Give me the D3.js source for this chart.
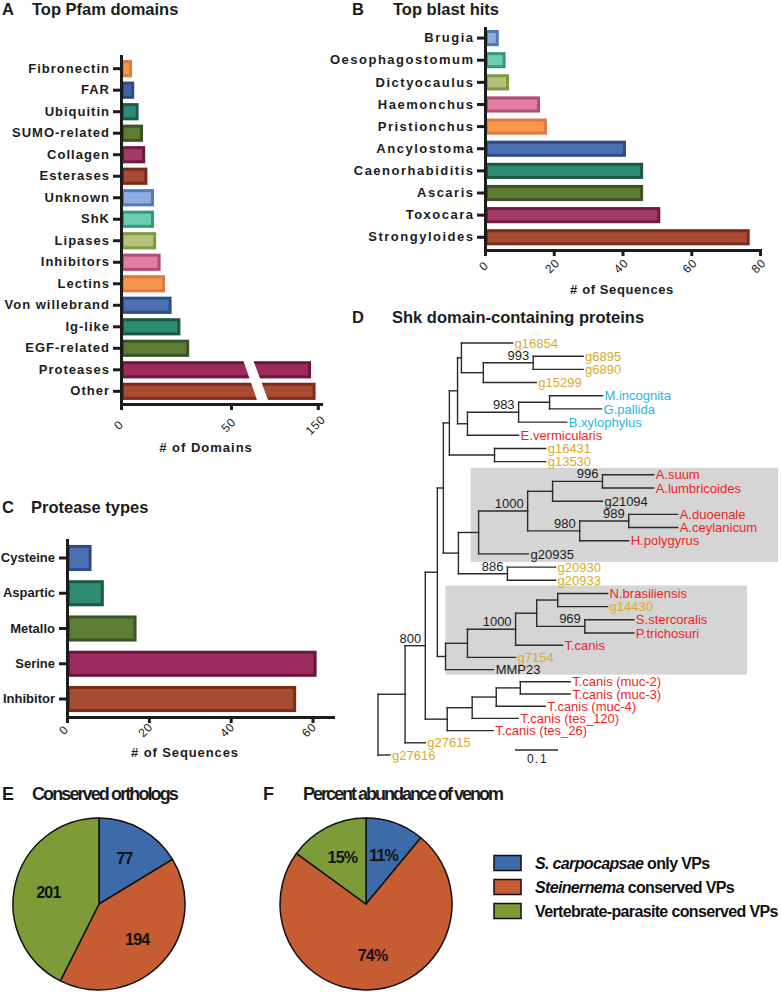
<!DOCTYPE html>
<html><head><meta charset="utf-8">
<script src="https://cdn.jsdelivr.net/npm/d3@7"></script>
<style>
body{margin:0;background:#fff;}
svg{display:block;font-family:"Liberation Sans",Arial,Helvetica,sans-serif;}
</style></head><body>
<svg id="fig" width="781" height="992"></svg>
<script>
// ---------------- DATA ----------------
const pfamCategories = ["Fibronectin","FAR","Ubiquitin","SUMO-related","Collagen","Esterases","Unknown","ShK","Lipases","Inhibitors","Lectins","Von willebrand","Ig-like","EGF-related","Proteases","Other"];
const pfamValues = [5,6,8,10,11,12,15,15,16,18,20,23,27,31,147,149];
const pfamTicks = [0,50,150];

const blastCategories = ["Brugia","Oesophagostomum","Dictyocaulus","Haemonchus","Pristionchus","Ancylostoma","Caenorhabiditis","Ascaris","Toxocara","Strongyloides"];
const blastValues = [4,6,7,16,18,41,46,46,51,77];
const blastTicks = [0,20,40,60,80];

const proteaseCategories = ["Cysteine","Aspartic","Metallo","Serine","Inhibitor"];
const proteaseValues = [6,9,17,61,56];
const proteaseTicks = [0,20,40,60];

const vpGroups = [["S. carpocapsae"," only VPs"],["Steinernema"," conserved VPs"],["","Vertebrate-parasite conserved VPs"]];
const orthologCounts = [77,194,201];
const abundancePercent = [11,74,15];

// tree: N(branch length, bootstrap, ...children), L(name, branch length, group)
function L(name, len, grp){ return {name, len, grp}; }
function N(len, boot, ...children){ return {len, boot, children}; }
const shkTree = N(0, null,
  N(0.063, null,
    N(0.047, "800",
      N(0.028, null,
        N(0.014, null,
          N(0.014, null,
            N(0.019, null,
              N(0.009, null,
                L("g16854", 0.119, "s"),
                N(0.051, null,
                  N(0.116, "993", L("g6895",0.116,"s"), L("g6890",0.116,"s")),
                  L("g15299", 0.123, "s"))),
              N(0.023, null,
                N(0.119, "983",
                  N(0.072, null, L("M.incognita",0.123,"c"), L("G.pallida",0.121,"c")),
                  L("B.xylophylus",0.112,"c")),
                L("E.vermicularis",0.119,"r"))),
            N(0.105, null, L("g16431",0.119,"s"), L("g13530",0.119,"s"))),
          N(0.035, null,
            N(0.047, null,
              N(0.114, "1000",
                N(0.058, null,
                  N(0.116, "996", L("A.suum",0.119,"r"), L("A.lumbricoides",0.119,"r")),
                  L("g21094",0.116,"k")),
                N(0.121, "980",
                  N(0.114, "989", L("A.duoenale",0.114,"r"), L("A.ceylanicum",0.114,"r")),
                  L("H.polygyrus",0.114,"r"))),
              L("g20935",0.116,"k")),
            N(0.114, "886", L("g20930",0.112,"s"), L("g20933",0.112,"s")))),
        N(0.019, null,
          N(0.051, null,
            N(0.112, "1000",
              N(0.049, null,
                N(0.049, null, L("N.brasiliensis",0.116,"r"), L("g14430",0.116,"s")),
                N(0.112, "969", L("S.stercoralis",0.114,"r"), L("P.trichosuri",0.114,"r"))),
              L("T.canis",0.109,"r")),
            L("g7154",0.112,"s")),
          L("MMP23",0.112,"k"))),
      N(0.051, null,
        N(0.058, null,
          N(0.056, null,
            N(0.056, null, L("T.canis (muc-2)",0.116,"r"), L("T.canis (muc-3)",0.116,"r")),
            L("T.canis (muc-4)",0.114,"r")),
          L("T.canis (tes_120)",0.107,"r")),
        L("T.canis (tes_26)",0.107,"r"))),
    L("g27615",0.047,"s")),
  L("g27616",0.028,"s"));
const scaleBarValue = 0.1;

// ---------------- STYLES ----------------
const pfamFill   = ["#f7954a","#3d65a9","#2d8b73","#5d7d35","#a33b66","#a64b34","#8eaedf","#6fcdb3","#b6c17b","#e27ea1","#f7954a","#4a70b2","#2d8b73","#5d7d35","#9e2b5e","#a84b33"];
const pfamStroke = ["#e2783f","#2c4a80","#1c5c4a","#3c5424","#701b42","#7a2a1c","#5279bf","#319a80","#7b9b3c","#b24b77","#da7a48","#2c4d88","#1c5846","#3c5424","#6a1740","#7e2b1a"];
const blastFill   = ["#8eaedf","#6fcdb3","#b6c17b","#e27ea1","#f7954a","#4a70b2","#2d8b73","#5d7d35","#a33b66","#a84b33"];
const blastStroke = ["#5279bf","#319a80","#7b9b3c","#b24b77","#da7a48","#2c4d88","#1c5846","#3c5424","#701b42","#7e2b1a"];
const protFill   = ["#4a70b2","#2d8b73","#5d7d35","#9e2b5e","#a84b33"];
const protStroke = ["#2c4d88","#1c5846","#3c5424","#6a1740","#7e2b1a"];
const pieColors = ["#3d6aa8","#c65c32","#7d9b37"];
const leafColor = {s:"#d9ab2c", r:"#ee1f26", c:"#2cb4e6", k:"#1a1a1a"};
const INK = "#1c1c1c";

const svg = d3.select("#fig");

function txt(x, y, s, o={}){
  const t = svg.append("text").attr("x",x).attr("y",y).text(s)
    .attr("font-size", o.size||16).attr("font-weight", o.weight||"bold")
    .attr("fill", o.fill||INK);
  if(o.ls!==undefined) t.attr("letter-spacing", o.ls);
  if(o.anchor) t.attr("text-anchor", o.anchor);
  return t;
}

// ---------------- PANEL TITLES ----------------
txt(2,15,"A",{size:16.5}); txt(32,15,"Top Pfam domains",{size:16.5});
txt(352,15,"B",{size:16.5}); txt(393,15,"Top blast hits",{size:16.5});
txt(2,513,"C",{size:16.5}); txt(31,513,"Protease types",{size:16.5});
txt(352,323,"D",{size:16.5}); txt(392,323,"Shk domain-containing proteins",{size:16.5});
txt(2,800,"E",{size:18}); txt(32,800,"Conserved orthologs",{size:18,ls:-1.9});
txt(263,800,"F",{size:18}); txt(303,800,"Percent abundance of venom",{size:18,ls:-2});

// ---------------- BAR CHARTS ----------------
function barChart(cfg){
  const {cats, vals, fills, strokes, x, y, ticks, labLS, tickOff, axTitle, axTitleX, axTitleY, axLS} = cfg;
  const g = svg.append("g");
  const x0 = x(0), axisY = y.range()[1];
  g.selectAll("rect").data(cats).join("rect")
    .attr("x", x0+1.5).attr("y", d=>y(d)+1.5)
    .attr("width", (d,i)=>Math.max(0, x(vals[i])-x0-3))
    .attr("height", y.bandwidth()-3)
    .attr("fill",(d,i)=>fills[i]).attr("stroke",(d,i)=>strokes[i]).attr("stroke-width",3);
  if(cfg.after) cfg.after(g);
  const ya = g.append("g").attr("transform",`translate(${x0},0)`)
    .call(d3.axisLeft(y).tickSize(8).tickPadding(4).tickSizeOuter(0));
  ya.selectAll("text").attr("font-size",13).attr("font-weight","bold").attr("fill",INK)
    .attr("font-family",'"Liberation Sans",Arial,sans-serif')
    .attr("letter-spacing",labLS).attr("dx", labLS? labLS : 0);
  const xa = g.append("g").attr("transform",`translate(0,${axisY})`)
    .call(d3.axisBottom(x).tickValues(ticks).tickSize(6).tickSizeOuter(0).tickFormat(d3.format("d")));
  xa.selectAll(".tick text").attr("font-size",12).attr("fill",INK)
    .attr("font-family",'"Liberation Sans",Arial,sans-serif').attr("letter-spacing",0.6)
    .attr("y",null).attr("dy","0.35em").attr("text-anchor","middle")
    .attr("transform",`translate(${tickOff[0]},${tickOff[1]}) rotate(-45)`);
  [ya,xa].forEach(a=>{
    a.select(".domain").attr("stroke",INK).attr("stroke-width",3).attr("stroke-linecap","square");
    a.selectAll(".tick line").attr("stroke",INK).attr("stroke-width",3);
  });
  g.append("text").attr("x",axTitleX).attr("y",axTitleY).attr("text-anchor","middle")
    .attr("font-size",13).attr("font-weight","bold").attr("fill",INK).attr("letter-spacing",axLS)
    .text(axTitle);
}

// A
const xA = d3.scaleLinear().domain([0,61,122.3,151.4]).range([121,255.2,255.2,321]);
const yA = d3.scaleBand().domain(pfamCategories).range([56,404]).paddingInner(0.2).paddingOuter(0.19);
barChart({cats:pfamCategories, vals:pfamValues, fills:pfamFill, strokes:pfamStroke, x:xA, y:yA,
  ticks:pfamTicks, labLS:1, tickOff:[-3,21], axTitle:"# of Domains", axTitleX:206, axTitleY:452, axLS:1,
  after: g=>{
    const bx = xA(61);
    const top = yA("Proteases")-1, bot = yA("Other")+yA.bandwidth()+0.5;
    g.append("polygon").attr("points",[[bx-12,top],[bx-2,top],[bx+13,bot],[bx+2,bot]].join(" "))
      .attr("fill","#fff");
  }});

// B
const xB = d3.scaleLinear().domain([0,80]).range([485,760]);
const yB = d3.scaleBand().domain(blastCategories).range([28,250]).paddingInner(0.27).paddingOuter(0.15).align(0.3);
barChart({cats:blastCategories, vals:blastValues, fills:blastFill, strokes:blastStroke, x:xB, y:yB,
  ticks:blastTicks, labLS:1.5, tickOff:[-2,16], axTitle:"# of Sequences", axTitleX:622, axTitleY:294, axLS:0.6});

// C
const xC = d3.scaleLinear().domain([0,65]).range([67,333]);
const yC = d3.scaleBand().domain(proteaseCategories).range([540,717]).paddingInner(0.26).paddingOuter(0.14);
barChart({cats:proteaseCategories, vals:proteaseValues, fills:protFill, strokes:protStroke, x:xC, y:yC,
  ticks:proteaseTicks, labLS:0, tickOff:[-4,13], axTitle:"# of Sequences", axTitleX:185, axTitleY:757, axLS:0.9});

// ---------------- TREE (D) ----------------
const root = d3.hierarchy(shkTree, d=>d.children);
const xT = d3.scaleLinear().domain([0,1]).range([378,378+430]);
root.each(d=>{ d.dist = (d.parent? d.parent.dist:0) + (d.parent? d.data.len:0); });
const leaves = root.leaves();
const yT = d3.scaleLinear().domain([0,22,32]).range([343,633,755]);
leaves.forEach((d,i)=>{ d.py = yT(i); });
root.eachAfter(d=>{ if(d.children){ d.py = (d.children[0].py + d.children[d.children.length-1].py)/2; } });
root.each(d=>{ d.px = xT(d.dist); });

const tg = svg.append("g");
// grey clade boxes
function findLeaf(n){ return leaves.find(l=>l.data.name===n); }
function cladeBox(anc, firstLeaf, lastLeaf, left, right, padT, padB){
  tg.append("rect").attr("x",left).attr("y",findLeaf(firstLeaf).py-padT)
    .attr("width",right-left).attr("height",findLeaf(lastLeaf).py-findLeaf(firstLeaf).py+padT+padB)
    .attr("fill","#d5d5d5");
}
const boxAnc1 = findLeaf("g20935").parent;
const boxAnc2 = findLeaf("MMP23").parent;
cladeBox(boxAnc1,"A.suum","g20935", boxAnc1.px-8, 778, 7, 8);
cladeBox(boxAnc2,"N.brasiliensis","MMP23", boxAnc2.px, 747, 8, 5);

const lines = [];
root.descendants().forEach(d=>{
  if(d.parent) lines.push([d.parent.px, d.py, d.px, d.py]);
  if(d.children) lines.push([d.px, d.children[0].py, d.px, d.children[d.children.length-1].py]);
});
tg.selectAll("line.br").data(lines).join("line")
  .attr("x1",d=>d[0]).attr("y1",d=>d[1]).attr("x2",d=>d[2]).attr("y2",d=>d[3])
  .attr("stroke","#2a2a2a").attr("stroke-width",1.4).attr("stroke-linecap","square");
tg.selectAll("text.leaf").data(leaves).join("text")
  .attr("x",d=>d.px+2).attr("y",d=>d.py).attr("dy","0.36em")
  .attr("font-size",13).attr("fill",d=>leafColor[d.data.grp]).text(d=>d.data.name);
tg.selectAll("text.boot").data(root.descendants().filter(d=>d.data.boot)).join("text")
  .attr("x",d=>d.px-4).attr("y",d=>d.py-3).attr("text-anchor","end")
  .attr("font-size",13).attr("fill","#1a1a1a").text(d=>d.data.boot);
// scale bar
const sbX = 515, sbY = 750;
tg.append("line").attr("x1",sbX).attr("x2",sbX + xT(scaleBarValue)-xT(0)).attr("y1",sbY).attr("y2",sbY)
  .attr("stroke","#2a2a2a").attr("stroke-width",1.4);
tg.append("text").attr("x",sbX+(xT(scaleBarValue)-xT(0))/2+1).attr("y",sbY+13).attr("text-anchor","middle")
  .attr("font-size",12).attr("letter-spacing",1.5).attr("fill","#1a1a1a").text(d3.format(".1f")(scaleBarValue));

// ---------------- PIES (E, F) ----------------
const pie = d3.pie().sort(null).value(d=>d);
const arc = d3.arc().innerRadius(0).outerRadius(86);
const labArc = d3.arc().innerRadius(52).outerRadius(52);
function drawPie(cx, cy, vals, fmt){
  const g = svg.append("g").attr("transform",`translate(${cx},${cy})`);
  const arcs = pie(vals);
  g.selectAll("path").data(arcs).join("path").attr("d",arc)
    .attr("fill",(d,i)=>pieColors[i]).attr("stroke","#111").attr("stroke-width",1.5);
  g.selectAll("text").data(arcs).join("text")
    .attr("transform",d=>`translate(${labArc.centroid(d)})`).attr("dy","0.36em")
    .attr("text-anchor","middle").attr("font-size",16).attr("font-weight","bold")
    .attr("letter-spacing",-0.8).attr("fill","#111").text(d=>fmt(d.data));
}
drawPie(99, 904, orthologCounts, d=>d);
drawPie(366, 904, abundancePercent, d=>d+"%");

// legend
const lg = svg.append("g");
const legY = d3.scalePoint().domain(d3.range(vpGroups.length)).range([863,911]);
vpGroups.forEach((p,i)=>{
  lg.append("rect").attr("x",494).attr("y",legY(i)-7.5).attr("width",27).attr("height",15)
    .attr("fill",pieColors[i]).attr("stroke","#111").attr("stroke-width",1.5);
  const t = lg.append("text").attr("x",535).attr("y",legY(i)).attr("dy","0.36em")
    .attr("font-size",16).attr("font-weight","bold").attr("letter-spacing",-0.65).attr("fill","#111");
  if(p[0]) t.append("tspan").attr("font-style","italic").text(p[0]);
  t.append("tspan").text(p[1]);
});
</script>
</body></html>
